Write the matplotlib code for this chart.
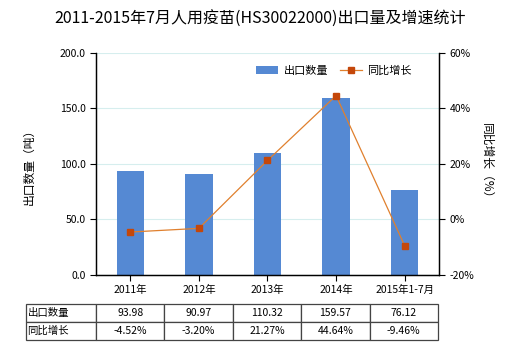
import matplotlib.pyplot as plt
import numpy as np

plt.rcParams["font.family"] = ["Noto Sans CJK SC", "DejaVu Sans"]

# data
categories = ["2011年", "2012年", "2013年", "2014年", "2015年1-7月"]
export_qty = [93.98, 90.97, 110.32, 159.57, 76.12]
yoy_growth = [-4.52, -3.20, 21.27, 44.64, -9.46]
qty_labels = ["93.98", "90.97", "110.32", "159.57", "76.12"]
growth_labels = ["-4.52%", "-3.20%", "21.27%", "44.64%", "-9.46%"]

bar_color = "#5589d3"
line_color = "#e0802e"
marker_color = "#c4470a"

fig = plt.figure(figsize=(5.2, 3.5), dpi=100)
ax = fig.add_axes([0.1846, 0.2143, 0.6596, 0.6343])
ax2 = ax.twinx()

x = np.arange(len(categories))
ax.bar(x, export_qty, width=0.4, color=bar_color, zorder=2, label="出口数量")
ax.set_xlim(-0.5, len(categories) - 0.5)
ax.set_ylim(0, 200)
ax.set_yticks([0, 50, 100, 150, 200])
ax.set_yticklabels([f"{v:.1f}" for v in [0, 50, 100, 150, 200]])
ax.grid(axis="y", color="#d6eeee", linewidth=0.8, zorder=0)
ax.set_xticks(x)
ax.set_xticklabels(categories)
ax.tick_params(axis="both", labelsize=7.5, length=4, width=0.8)
ax.tick_params(axis="x", pad=3)
ax.set_ylabel("出口数量（吨）", fontsize=8.5, labelpad=17)

ax2.plot(x, yoy_growth, color=line_color, linewidth=0.9, marker="s",
         markersize=4, markerfacecolor=marker_color, markeredgecolor=marker_color,
         zorder=3, label="同比增长")
ax2.set_ylim(-20, 60)
ax2.set_yticks([-20, 0, 20, 40, 60])
ax2.set_yticklabels([f"{v}%" for v in [-20, 0, 20, 40, 60]])
ax2.tick_params(axis="y", labelsize=7.5, length=4, width=0.8)
ax2.set_ylabel("同比增长（%）", fontsize=8.5, rotation=-90, labelpad=14)

for a in (ax, ax2):
    a.spines["top"].set_visible(False)
    for s in ("left", "right", "bottom"):
        a.spines[s].set_linewidth(0.9)

h1, l1 = ax.get_legend_handles_labels()
h2, l2 = ax2.get_legend_handles_labels()
ax2.legend(h1 + h2, l1 + l2, loc="upper right", bbox_to_anchor=(0.95, 0.99),
           ncol=2, frameon=False, fontsize=8, handlelength=2.0,
           handletextpad=0.5, columnspacing=1.0)

fig.suptitle("2011-2015年7月人用疫苗(HS30022000)出口量及增速统计",
             fontsize=11.5, y=0.97)

# data table under the chart
cell_text = [["出口数量"] + qty_labels, ["同比增长"] + growth_labels]
col_w = [70] + [68.4] * len(categories)
tbl = ax.table(cellText=cell_text, cellLoc="center", colWidths=col_w,
               bbox=[-0.204, -0.293, 1.201, 0.162])
tbl.auto_set_font_size(False)
tbl.set_fontsize(7.5)
for (r, c), cell in tbl.get_celld().items():
    cell.set_edgecolor("#444444")
    cell.set_linewidth(0.9)
    if c == 0:
        cell.set_text_props(ha="left")
        cell.PAD = 0.02

fig.savefig("out.png", dpi=100)
